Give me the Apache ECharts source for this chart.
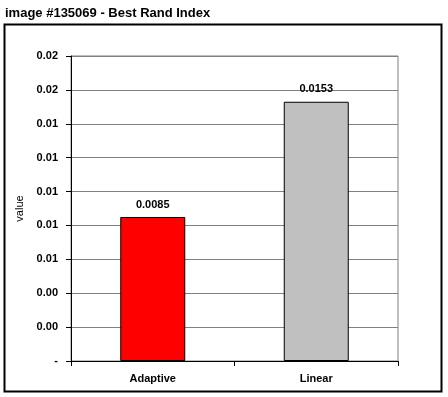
<!DOCTYPE html>
<html>
<head>
<meta charset="utf-8">
<script src="https://cdn.jsdelivr.net/npm/echarts@6/dist/echarts.min.js"></script>
<style>
  html, body { margin: 0; padding: 0; background: #fff; }
  #chart { width: 448px; height: 397px; }
</style>
</head>
<body>
<div id="chart"></div>
<script>
// data
const categories = ['Adaptive', 'Linear']
const values = [0.0085, 0.0153]
const barColors = ['#ff0000', '#c0c0c0']
const yTickLabels = ['-', '0.00', '0.00', '0.01', '0.01', '0.01', '0.01', '0.01', '0.02', '0.02']
const yStep = 0.002

const font = 'Liberation Sans, Arial, sans-serif'

const chart = echarts.init(document.getElementById('chart'))

const option = {
  animation: false,
  backgroundColor: '#fff',
  textStyle: { fontFamily: font },
  title: {
    text: 'image #135069 - Best Rand Index',
    left: 5,
    top: 7,
    padding: 0,
    textStyle: { fontFamily: font, fontSize: 13, fontWeight: 'bold', color: '#000' }
  },
  graphic: [
    {
      type: 'rect',
      shape: { x: 4.5, y: 24.5, width: 437, height: 367 },
      style: { fill: null, stroke: '#000', lineWidth: 2 },
      z: -1
    }
  ],
  grid: {
    left: 71,
    top: 56,
    right: 50,
    bottom: 36,
    show: true,
    borderColor: '#808080',
    borderWidth: 1
  },
  xAxis: {
    type: 'category',
    data: categories,
    axisLine: { lineStyle: { color: '#000', width: 1 } },
    axisTick: { show: true, length: 5, lineStyle: { color: '#000' } },
    axisLabel: { color: '#000', fontSize: 11, fontWeight: 'bold', margin: 12, fontFamily: font },
    splitLine: { show: false }
  },
  yAxis: {
    type: 'value',
    min: 0,
    max: yStep * (yTickLabels.length - 1),
    interval: yStep,
    name: 'value',
    nameLocation: 'middle',
    nameGap: 46,
    nameTextStyle: { color: '#000', fontSize: 11, fontFamily: font },
    axisLine: { show: true, lineStyle: { color: '#000', width: 1 } },
    axisTick: { show: true, length: 5, lineStyle: { color: '#000' } },
    axisLabel: {
      color: '#000',
      fontSize: 11,
      fontWeight: 'bold',
      margin: 13,
      fontFamily: font,
      formatter: v => yTickLabels[Math.round(v / yStep)]
    },
    splitLine: { show: true, lineStyle: { color: '#808080', width: 1 } }
  },
  series: [
    {
      type: 'bar',
      barWidth: 65,
      data: values.map((v, i) => ({
        value: v,
        itemStyle: { color: barColors[i], borderColor: '#000', borderWidth: 1 }
      })),
      label: {
        show: true,
        position: 'top',
        distance: 7,
        color: '#000',
        fontSize: 11,
        fontWeight: 'bold',
        fontFamily: font,
        formatter: p => p.value.toFixed(4)
      }
    }
  ]
}

chart.setOption(option)
</script>
</body>
</html>
